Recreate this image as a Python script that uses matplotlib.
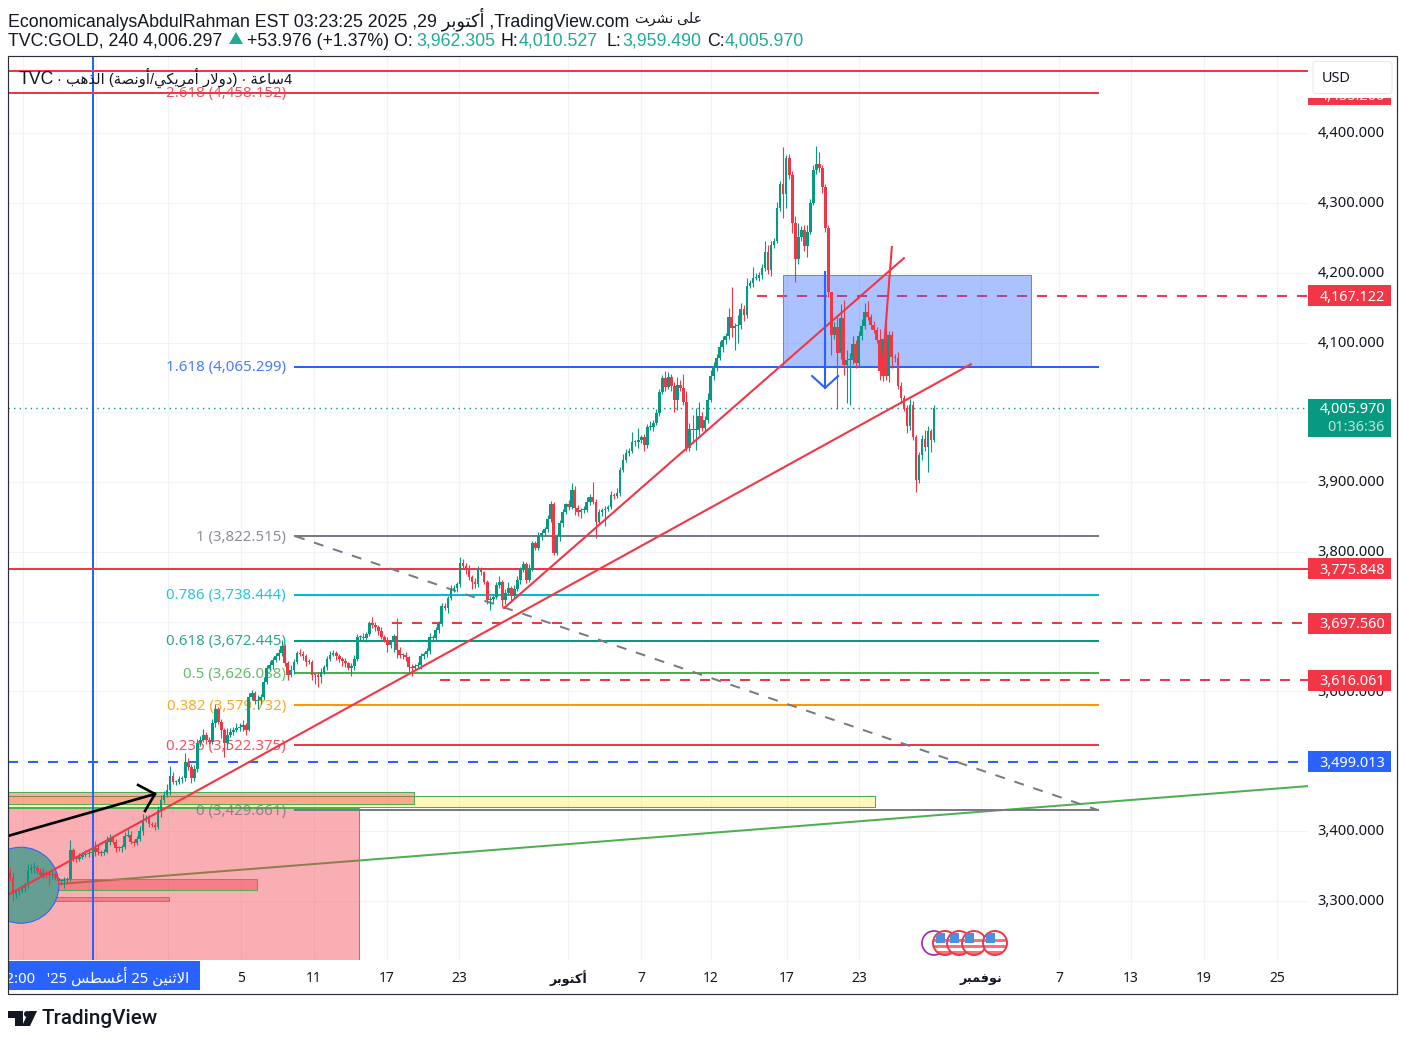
import matplotlib
matplotlib.use('Agg')
import matplotlib.pyplot as plt
from matplotlib.patches import Rectangle, Ellipse, Circle, Polygon, FancyBboxPatch

UP = '#089981'
DOWN = '#f23645'
BLUE = '#2962ff'
GRID = '#f0f3fa'
INK = '#131722'
FONT = ['Noto Sans', 'DejaVu Sans']
HEAD = ['Liberation Sans', 'DejaVu Sans']

first_open = 3340
closes = [
    3334, 3310, 3312, 3314, 3318, 3324, 3344, 3346, 3347, 3342,
    3337, 3340, 3337, 3336, 3338, 3332, 3328, 3328, 3330, 3331,
    3373, 3361, 3360, 3363, 3365, 3367, 3368, 3370, 3376, 3370,
    3368, 3370, 3384, 3390, 3384, 3376, 3375, 3377, 3393, 3394,
    3384, 3382, 3388, 3400, 3415, 3418, 3410, 3408, 3406, 3430,
    3444, 3451, 3458, 3478, 3470, 3470, 3474, 3476, 3499, 3492,
    3476, 3488, 3526, 3530, 3538, 3530, 3528, 3554, 3574, 3556,
    3545, 3526, 3538, 3542, 3544, 3547, 3549, 3552, 3545, 3592,
    3598, 3586, 3588, 3592, 3614, 3634, 3638, 3645, 3650, 3655,
    3665, 3641, 3624, 3630, 3642, 3655, 3654, 3650, 3642, 3642,
    3624, 3623, 3620, 3628, 3635, 3646, 3652, 3655, 3650, 3646,
    3643, 3640, 3634, 3636, 3647, 3678, 3678, 3676, 3682, 3698,
    3695, 3692, 3687, 3678, 3674, 3667, 3670, 3679, 3659, 3652,
    3652, 3649, 3635, 3634, 3636, 3638, 3650, 3654, 3658, 3678,
    3677, 3688, 3698, 3722, 3720, 3734, 3747, 3748, 3754, 3784,
    3780, 3774, 3764, 3757, 3754, 3775, 3771, 3757, 3731, 3732,
    3735, 3752, 3757, 3731, 3741, 3748, 3737, 3747, 3759, 3774,
    3783, 3759, 3777, 3813, 3806, 3822, 3827, 3832, 3847, 3869,
    3798, 3822, 3841, 3857, 3868, 3864, 3889, 3863, 3857, 3860,
    3860, 3872, 3878, 3872, 3843, 3857, 3860, 3862, 3864, 3881,
    3880, 3884, 3917, 3932, 3942, 3945, 3957, 3957, 3960, 3964,
    3953, 3979, 3979, 3985, 3999, 4029, 4049, 4036, 4051, 4037,
    4018, 4039, 4035, 4015, 3949, 3976, 3974, 3974, 3995, 3978,
    3989, 4018, 4052, 4065, 4078, 4094, 4104, 4109, 4137, 4121,
    4124, 4125, 4148, 4139, 4181, 4185, 4193, 4193, 4197, 4207,
    4230, 4204, 4240, 4246, 4293, 4327, 4313, 4365, 4340, 4272,
    4220, 4251, 4261, 4239, 4259, 4300, 4347, 4356, 4350, 4323,
    4264, 4173, 4111, 4122, 4085, 4135, 4068, 4075, 4075, 4098,
    4071, 4109, 4124, 4144, 4137, 4125, 4118, 4104, 4059, 4105,
    4052, 4111, 4079, 4078, 4038, 4021, 4006, 3980, 4011, 3965,
    3903, 3939, 3962, 3950, 3973, 3960, 4005.97,
]
# wick length above the body
up_wicks = [
    7, 5, 3, 5, 4, 3, 8, 6, 8, 4,
    5, 6, 4, 5, 6, 3, 2, 3, 4, 3,
    14, 3, 3, 5, 4, 6, 4, 5, 10, 4,
    3, 4, 8, 6, 3, 4, 2, 3, 6, 8,
    6, 3, 5, 7, 9, 4, 5, 3, 4, 5,
    8, 6, 9, 15, 6, 3, 5, 3, 12, 5,
    4, 6, 5, 6, 8, 3, 4, 6, 8, 4,
    5, 3, 9, 6, 5, 8, 6, 7, 3, 6,
    4, 3, 6, 4, 6, 4, 6, 4, 5, 5,
    9, 3, 2, 8, 4, 3, 5, 4, 3, 4,
    3, 2, 4, 6, 3, 5, 6, 4, 3, 4,
    3, 5, 2, 4, 5, 4, 3, 5, 3, 3,
    8, 4, 3, 5, 3, 4, 4, 3, 26, 5,
    3, 4, 2, 4, 3, 4, 5, 3, 4, 5,
    3, 4, 3, 5, 4, 3, 5, 4, 3, 8,
    6, 4, 7, 3, 5, 5, 3, 2, 3, 4,
    3, 4, 8, 3, 6, 8, 3, 5, 6, 4,
    4, 3, 5, 3, 2, 6, 4, 4, 6, 4,
    2, 3, 5, 4, 2, 6, 10, 6, 4, 3,
    5, 6, 5, 22, 3, 4, 3, 4, 3, 6,
    3, 8, 4, 8, 5, 4, 15, 3, 17, 4,
    5, 4, 8, 4, 6, 5, 5, 10, 7, 4,
    6, 12, 8, 20, 15, 8, 20, 32, 20, 5,
    6, 10, 8, 7, 5, 8, 6, 5, 12, 43,
    4, 15, 8, 6, 12, 5, 15, 6, 4, 5,
    15, 10, 6, 4, 8, 4, 53, 4, 5, 6,
    10, 20, 6, 8, 10, 6, 8, 26, 17, 4,
    5, 4, 0, 8, 15, 20, 26, 15, 10, 12,
    6, 8, 10, 12, 15, 4, 6, 5, 15, 0,
    33, 6, 5, 4, 8, 6, 4, 5, 8, 5,
    3, 4, 6, 12, 8, 3, 4,
]
# wick length below the body
down_wicks = [
    6, 10, 6, 4, 3, 5, 6, 4, 6, 4,
    3, 5, 4, 14, 5, 3, 4, 5, 10, 6,
    3, 4, 5, 3, 4, 3, 5, 3, 6, 5,
    4, 3, 2, 5, 3, 6, 4, 5, 3, 2,
    3, 4, 3, 3, 6, 3, 4, 3, 5, 4,
    10, 4, 3, 6, 3, 4, 3, 5, 4, 5,
    8, 4, 3, 5, 3, 6, 4, 3, 5, 3,
    12, 20, 8, 3, 5, 3, 4, 6, 8, 2,
    5, 4, 12, 6, 5, 3, 4, 6, 3, 5,
    4, 5, 8, 4, 5, 3, 4, 5, 6, 3,
    8, 12, 14, 8, 3, 4, 3, 2, 5, 4,
    6, 5, 3, 12, 5, 3, 6, 4, 5, 3,
    4, 5, 6, 3, 4, 10, 5, 14, 11, 4,
    5, 6, 10, 12, 4, 3, 6, 3, 5, 4,
    6, 3, 5, 4, 3, 8, 3, 4, 5, 4,
    3, 6, 5, 10, 6, 5, 4, 3, 6, 15,
    5, 3, 4, 10, 6, 3, 8, 4, 3, 5,
    3, 4, 3, 5, 3, 4, 5, 4, 3, 4,
    3, 3, 6, 5, 3, 4, 3, 10, 5, 8,
    4, 3, 5, 4, 23, 3, 5, 23, 4, 3,
    5, 3, 4, 3, 3, 4, 3, 5, 8, 4,
    9, 4, 5, 6, 3, 4, 3, 5, 3, 6,
    18, 15, 5, 5, 5, 4, 15, 28, 6, 5,
    6, 4, 3, 5, 6, 3, 8, 6, 4, 13,
    32, 24, 5, 8, 4, 3, 6, 4, 5, 6,
    5, 6, 8, 4, 3, 4, 35, 20, 5, 15,
    33, 7, 6, 8, 17, 4, 3, 5, 6, 8,
    6, 8, 29, 6, 80, 8, 15, 55, 65, 6,
    7, 5, 6, 4, 5, 6, 5, 4, 12, 14,
    6, 8, 15, 6, 5, 8, 4, 10, 6, 5,
    17, 4, 8, 6, 35, 17, 2,
]

price_ticks = [3300, 3400, 3500, 3600, 3700, 3800, 3900, 4000, 4100, 4200, 4300, 4400]
tick_bars = [76.5, 100.7, 124.8, 148.7, 184.8, 208.9, 232.1, 257.3, 281.1, 321.5, 347.4, 371.2, 395.4, 419.5]
tick_names = ['5', '11', '17', '23', '\uFEAE\uFE91\uFEEE\uFE98\uFEDB\uFE83', '7', '12', '17', '23',
              '\uFEAE\uFE92\uFEE4\uFED3\uFEEE\uFEE7', '7', '13', '19', '25']
grid_bars = [4.3, 28.5, 52.3, 76.5, 100.7, 124.8, 148.7, 184.8, 208.9, 232.1, 257.3, 281.1,
             321.5, 347.4, 371.2, 395.4, 419.5]

fib_ratios = ['2.618', '1.618', '1', '0.786', '0.618', '0.5', '0.382', '0.236', '0']
fib_prices = [4458.152, 4065.299, 3822.515, 3738.444, 3672.445, 3626.088, 3579.732, 3522.375, 3429.661]
fib_colors = [DOWN, BLUE, '#787b86', '#00bcd4', UP, '#4caf50', '#ff9800', DOWN, '#787b86']

tag_prices = [4455.2, 4167.122, 3775.848, 3697.56, 3616.061, 3499.013]
tag_colors = [DOWN, DOWN, DOWN, DOWN, DOWN, BLUE]

# x, then y of each drawing: bar number and price
trend_a_bars, trend_a_prices = [-0.7, 318.2], [3308, 4069]
trend_b_bars, trend_b_prices = [163.6, 296], [3719.4, 4221]
spike_bars, spike_prices = [288.7, 292], [4053.5, 4237]
green_bars, green_prices = [-0.7, 429.5], [3318, 3464]
down_bars, down_prices = [269.9, 269.9], [4201, 4035]
down_head_bars, down_head_prices = [265.6, 269.9, 274.2], [4052, 4035, 4052]
black_bars, black_prices = [-0.7, 48], [3392.6, 3452.8]
black_head_bars, black_head_prices = [42.4, 48, 44.7], [3465.7, 3452.8, 3428.4]
fib_diag_bars, fib_diag_prices = [94.4, 360.3], [3822.515, 3429.661]

BAR_L, BAR_R = -0.66, 429.8
PRICE_T, PRICE_B = 4510.8, 3214.8
W, H = 1406, 1042


def box(x0, y0, x1, y1):
    return [x0 / W, 1 - y1 / H, (x1 - x0) / W, (y1 - y0) / H]


fig = plt.figure(figsize=(W / 100, H / 100), dpi=100, facecolor='white')
ax = fig.add_axes(box(8, 56, 1308, 960))
ax.set_xlim(BAR_L, BAR_R)
ax.set_ylim(PRICE_B, PRICE_T)
ax.axis('off')

for b in grid_bars:
    ax.axvline(b, color=GRID, lw=0.75, zorder=0)
for p in price_ticks:
    ax.axhline(p, color=GRID, lw=0.75, zorder=0)

ax.plot(green_bars, green_prices, color='#4caf50', lw=1.44, zorder=1)
ax.axvline(27.5, color=BLUE, lw=1.44, zorder=2.5)

# zones
zones = [
    (-0.7, 115.6, 3214.8, 3432.7, DOWN, 0.4),
    (-0.7, 286.4, 3434, 3450, '#ffeb3b', 0.35),
    (-0.7, 133.8, 3439, 3456, DOWN, 0.4),
    (-0.7, 81.8, 3315, 3331, DOWN, 0.4),
    (-0.7, 52.6, 3300, 3305, DOWN, 0.4),
    (256, 338, 4067, 4197, BLUE, 0.39),
]
for b0, b1, p0, p1, col, alpha in zones:
    ax.add_patch(Rectangle((b0, p0), b1 - b0, p1 - p0, facecolor=matplotlib.colors.to_rgba(col, alpha),
                           edgecolor='#4caf50', lw=0.75, zorder=2 if col != BLUE else 4))
ax.add_patch(Ellipse((3.6, 3322), 25.2, 109, facecolor='#679e94', edgecolor=BLUE, lw=0.75, zorder=2.2))

# levels
ax.axhline(4489, color=DOWN, lw=1.44, zorder=3)
ax.plot([BAR_L, 360.3], [4458.152, 4458.152], color=DOWN, lw=1.44, zorder=3)
ax.axhline(3775.848, color=DOWN, lw=1.44, zorder=3)
ax.plot([247.4, BAR_R], [4167.122, 4167.122], color=DOWN, lw=1.44, ls=(0, (5, 5)), zorder=3)
ax.plot([126.5, BAR_R], [3697.56, 3697.56], color=DOWN, lw=1.44, ls=(0, (5, 5)), zorder=3)
ax.plot([142.4, BAR_R], [3616.061, 3616.061], color=DOWN, lw=1.44, ls=(0, (5, 5)), zorder=3)
ax.axhline(3499.013, color=BLUE, lw=1.44, ls=(0, (5, 5)), zorder=3)
ax.axhline(4005.97, color=UP, lw=1, ls=(0, (1, 3)), zorder=3)

for ratio, price, col in zip(fib_ratios, fib_prices, fib_colors):
    ax.plot([94.4, 360.3], [price, price], color=col, lw=1.44, zorder=4.5)
    ax.text(91.4, price - 1.5, f'{ratio} ({price:,.3f})', color=col, alpha=0.85, family=FONT, fontsize=10.8,
            ha='right', va='center', zorder=3.5)
ax.plot(fib_diag_bars, fib_diag_prices, color='#787b86', lw=1.44, ls=(0, (5, 5)), zorder=4.5)

# candles
opens = [first_open] + closes[:-1]
for i, (o, c, uw, dw) in enumerate(zip(opens, closes, up_wicks, down_wicks)):
    col = UP if c >= o else DOWN
    ax.vlines(i, min(o, c) - dw, max(o, c) + uw, color=col, lw=0.8, zorder=5)
    ax.add_patch(Rectangle((i - 0.45, min(o, c)), 0.9, max(abs(c - o), 1.5), facecolor=col, edgecolor='none', zorder=5))

# drawings
ax.plot(trend_a_bars, trend_a_prices, color=DOWN, lw=1.5, zorder=6)
ax.plot(trend_b_bars, trend_b_prices, color=DOWN, lw=1.5, zorder=6)
ax.plot(spike_bars, spike_prices, color=DOWN, lw=1.5, zorder=6)
ax.plot(down_bars, down_prices, color=BLUE, lw=1.5, zorder=6)
ax.plot(down_head_bars, down_head_prices, color=BLUE, lw=1.5, zorder=6)
ax.plot(black_bars, black_prices, color='black', lw=1.9, zorder=6)
ax.plot(black_head_bars, black_head_prices, color='black', lw=1.9, zorder=6)

legend = '\u00b7 \uFE90\uFEEB\uFEAC\uFEDF\uFE8D (\uFE94\uFEBC\uFEE7\uFEED\uFE83/\uFEF2\uFEDC\uFEF3\uFEAE\uFEE3\uFE83 \uFEAD\uFEFB\uFEED\uFEA9) \u00b7 \uFE94\uFECB\uFE8E\uFEB34'
ax.text(3.0, 4477, 'TVC', color=INK, family=HEAD, fontsize=12.8, ha='left', va='center', zorder=7)
ax.text(15.5, 4479, legend, color=INK, family=HEAD, fontsize=10.6, ha='left', va='center', zorder=7)

# price scale
pax = fig.add_axes(box(1308, 56, 1397, 960))
pax.set_xlim(0, 89)
pax.set_ylim(PRICE_B, PRICE_T)
pax.axis('off')
for p in price_ticks:
    pax.text(77, p - 1, f'{p:,.3f}', color=INK, family=FONT, fontsize=10.6, ha='right', va='center', zorder=1)
for p, col in zip(tag_prices, tag_colors):
    pax.add_patch(Rectangle((0, p - 15), 83, 30, facecolor=col, edgecolor='none', zorder=2))
    pax.text(77, p - 2, f'{p:,.3f}', color='white', family=FONT, fontsize=10.4, fontweight='bold',
             ha='right', va='center', zorder=3)
pax.add_patch(Rectangle((0, 3965), 83, 54, facecolor=UP, edgecolor='none', zorder=2))
pax.text(77, 4004, '4,005.970', color='white', family=FONT, fontsize=10.4, fontweight='bold', ha='right', va='center', zorder=3)
pax.text(77, 3978, '01:36:36', color='#b9e6dc', family=FONT, fontsize=10.4, ha='right', va='center', zorder=3)
pax.add_patch(Rectangle((0, 4450), 89, 61, facecolor='white', edgecolor='none', zorder=4))
pax.add_patch(FancyBboxPatch((5, 4457), 79, 46, boxstyle='round,pad=0,rounding_size=3', mutation_aspect=1.4,
                             facecolor='white', edgecolor='#e6e8ee', lw=0.75, zorder=5))
pax.text(28, 4479, 'USD', color=INK, family=FONT, fontsize=10.4, ha='center', va='center', zorder=6)

# time scale
tax = fig.add_axes(box(8, 960, 1308, 994))
tax.set_xlim(BAR_L, BAR_R)
tax.set_ylim(34, 0)
tax.axis('off')
for b, name in zip(tick_bars, tick_names):
    arabic = not name.isdigit()
    tax.text(b, 18, name, color=INK, family=FONT, fontsize=9.2 if arabic else 10, fontweight='bold' if arabic else 'normal',
             ha='center', va='center')
tax.add_patch(Rectangle((BAR_L, 1), 63.5, 29, facecolor=BLUE, edgecolor='none', zorder=2))
crosshair = "12:00   '25 \uFEB2\uFEC4\uFEB4\uFECF\uFE83 25 \uFEE6\uFEF4\uFEE8\uFE9B\uFEFB\uFE8D"
t = tax.text(59.5, 17, crosshair, color='white', family=FONT, fontsize=10.7, ha='right', va='center', zorder=4)
t.set_clip_on(True)

# page furniture, pixel coordinates
page = fig.add_axes([0, 0, 1, 1], zorder=10)
page.set_xlim(0, W)
page.set_ylim(H, 0)
page.axis('off')
page.patch.set_alpha(0)
page.add_patch(Rectangle((8, 56), 1389, 938, facecolor='none', edgecolor='#2a2e39', lw=0.85))

title = "EconomicanalysAbdulRahman EST 03:23:25 2025 ,29 \uFEAE\uFE91\uFEEE\uFE98\uFEDB\uFE83 ,TradingView.com"
page.text(8, 19, title, color=INK, family=HEAD, fontsize=12.8, ha='left', va='center')
page.text(635, 19, "\uFE96\uFEAE\uFEB8\uFEE7 \uFEF0\uFEE0\uFECB", color=INK, family=HEAD, fontsize=10.2, ha='left', va='center')
page.text(8, 41, 'TVC:GOLD, 240 4,006.297', color=INK, family=HEAD, fontsize=12.8, ha='left', va='center')
page.add_patch(Polygon([(229, 44), (236, 32), (243, 44)], facecolor='#22ab94', edgecolor='none'))
page.text(247, 41, '+53.976 (+1.37%) O:', color=INK, family=HEAD, fontsize=12.8, ha='left', va='center')
segments = [(416, '3,962.305', '#22ab94'), (501, 'H:', INK), (519, '4,010.527', '#22ab94'), (606, 'L:', INK),
            (622, '3,959.490', '#22ab94'), (707, 'C:', INK), (725, '4,005.970', '#22ab94')]
for x, s, col in segments:
    page.text(x, 41, s, color=col, family=HEAD, fontsize=12.8, ha='left', va='center')

# TradingView mark
page.add_patch(Polygon([(8, 1011), (23, 1011), (23, 1026), (15, 1026), (15, 1018), (8, 1018)], facecolor=INK, edgecolor='none'))
page.add_patch(Circle((27, 1014), 3, facecolor=INK, edgecolor='none'))
page.add_patch(Polygon([(29, 1011), (37, 1011), (30, 1026), (22, 1026)], facecolor=INK, edgecolor='none'))
page.text(42, 1018, 'TradingView', color=INK, family='Roboto', fontsize=14.9, fontweight='medium', ha='left', va='center')

# event flags
page.add_patch(Circle((934, 943), 12, facecolor='white', edgecolor='#9c27b0', lw=1.2))
for cx in [945, 959, 974, 995]:
    disc = Circle((cx, 943), 12, facecolor='white', edgecolor=DOWN, lw=1.4)
    page.add_patch(disc)
    for dy in [939, 945, 951]:
        stripe = Rectangle((cx - 11, dy), 22, 3, facecolor=DOWN, alpha=0.7, edgecolor='none')
        page.add_patch(stripe)
        stripe.set_clip_path(disc)
    canton = Rectangle((cx - 9, 933), 9, 10, facecolor='#4a90e2', edgecolor='none')
    page.add_patch(canton)
    canton.set_clip_path(disc)

fig.savefig('out.png', dpi=100)
